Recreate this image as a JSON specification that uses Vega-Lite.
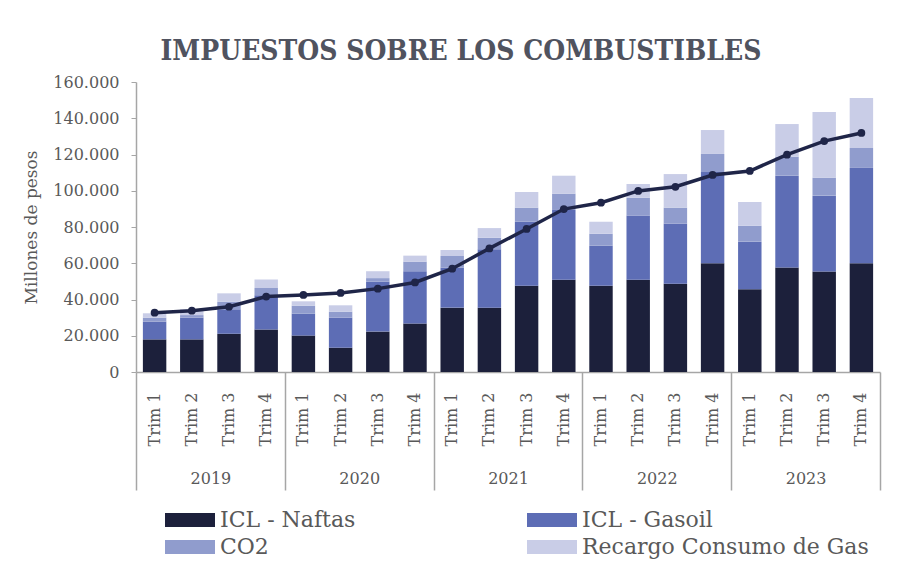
{
  "$schema": "https://vega.github.io/schema/vega-lite/v6.json",
  "width": 744,
  "height": 290,
  "autosize": {"type": "none"},
  "padding": {"left": 136, "top": 82, "right": 21, "bottom": 197},
  "background": "white",
  "title": {
    "text": "IMPUESTOS SOBRE LOS COMBUSTIBLES",
    "font": "DejaVu Serif Condensed, DejaVu Serif",
    "fontWeight": "bold",
    "fontSize": 28,
    "color": "#50535f",
    "anchor": "middle",
    "frame": "group",
    "baseline": "alphabetic",
    "offset": 22,
    "dx": -47,
    "dy": 36
  },
  "config": {
    "font": "DejaVu Serif",
    "locale": {"number": {"decimal": ",", "thousands": ".", "grouping": [3], "currency": ["$", ""]}},
    "view": {"stroke": null},
    "axis": {"labelFont": "DejaVu Serif", "titleFont": "DejaVu Serif", "labelColor": "#595959", "titleColor": "#595959", "domainColor": "#a6a6a6", "tickColor": "#a6a6a6"},
    "axisY": {"labelOverlap": false, "grid": false, "domainWidth": 1.5, "tickSize": 5, "labelFontSize": 16, "labelPadding": 12, "titleFontSize": 17, "titleFontWeight": "normal", "titlePadding": 12}
  },
  "datasets": {
    "barras": [
      {"periodo": "2019-T1", "serie": "ICL - Naftas", "orden": 1, "valor": 18000},
      {"periodo": "2019-T1", "serie": "ICL - Gasoil", "orden": 2, "valor": 9800},
      {"periodo": "2019-T1", "serie": "CO2", "orden": 3, "valor": 2200},
      {"periodo": "2019-T1", "serie": "Recargo Consumo de Gas", "orden": 4, "valor": 2400},
      {"periodo": "2019-T2", "serie": "ICL - Naftas", "orden": 1, "valor": 18000},
      {"periodo": "2019-T2", "serie": "ICL - Gasoil", "orden": 2, "valor": 12000},
      {"periodo": "2019-T2", "serie": "CO2", "orden": 3, "valor": 1400},
      {"periodo": "2019-T2", "serie": "Recargo Consumo de Gas", "orden": 4, "valor": 3200},
      {"periodo": "2019-T3", "serie": "ICL - Naftas", "orden": 1, "valor": 21100},
      {"periodo": "2019-T3", "serie": "ICL - Gasoil", "orden": 2, "valor": 13500},
      {"periodo": "2019-T3", "serie": "CO2", "orden": 3, "valor": 4200},
      {"periodo": "2019-T3", "serie": "Recargo Consumo de Gas", "orden": 4, "valor": 4600},
      {"periodo": "2019-T4", "serie": "ICL - Naftas", "orden": 1, "valor": 23400},
      {"periodo": "2019-T4", "serie": "ICL - Gasoil", "orden": 2, "valor": 18900},
      {"periodo": "2019-T4", "serie": "CO2", "orden": 3, "valor": 4000},
      {"periodo": "2019-T4", "serie": "Recargo Consumo de Gas", "orden": 4, "valor": 4800},
      {"periodo": "2020-T1", "serie": "ICL - Naftas", "orden": 1, "valor": 20100},
      {"periodo": "2020-T1", "serie": "ICL - Gasoil", "orden": 2, "valor": 12100},
      {"periodo": "2020-T1", "serie": "CO2", "orden": 3, "valor": 4400},
      {"periodo": "2020-T1", "serie": "Recargo Consumo de Gas", "orden": 4, "valor": 2400},
      {"periodo": "2020-T2", "serie": "ICL - Naftas", "orden": 1, "valor": 13400},
      {"periodo": "2020-T2", "serie": "ICL - Gasoil", "orden": 2, "valor": 16600},
      {"periodo": "2020-T2", "serie": "CO2", "orden": 3, "valor": 3300},
      {"periodo": "2020-T2", "serie": "Recargo Consumo de Gas", "orden": 4, "valor": 3500},
      {"periodo": "2020-T3", "serie": "ICL - Naftas", "orden": 1, "valor": 22300},
      {"periodo": "2020-T3", "serie": "ICL - Gasoil", "orden": 2, "valor": 27500},
      {"periodo": "2020-T3", "serie": "CO2", "orden": 3, "valor": 2000},
      {"periodo": "2020-T3", "serie": "Recargo Consumo de Gas", "orden": 4, "valor": 3800},
      {"periodo": "2020-T4", "serie": "ICL - Naftas", "orden": 1, "valor": 26700},
      {"periodo": "2020-T4", "serie": "ICL - Gasoil", "orden": 2, "valor": 28900},
      {"periodo": "2020-T4", "serie": "CO2", "orden": 3, "valor": 5300},
      {"periodo": "2020-T4", "serie": "Recargo Consumo de Gas", "orden": 4, "valor": 3300},
      {"periodo": "2021-T1", "serie": "ICL - Naftas", "orden": 1, "valor": 35500},
      {"periodo": "2021-T1", "serie": "ICL - Gasoil", "orden": 2, "valor": 22100},
      {"periodo": "2021-T1", "serie": "CO2", "orden": 3, "valor": 6400},
      {"periodo": "2021-T1", "serie": "Recargo Consumo de Gas", "orden": 4, "valor": 3300},
      {"periodo": "2021-T2", "serie": "ICL - Naftas", "orden": 1, "valor": 35500},
      {"periodo": "2021-T2", "serie": "ICL - Gasoil", "orden": 2, "valor": 32200},
      {"periodo": "2021-T2", "serie": "CO2", "orden": 3, "valor": 6400},
      {"periodo": "2021-T2", "serie": "Recargo Consumo de Gas", "orden": 4, "valor": 5300},
      {"periodo": "2021-T3", "serie": "ICL - Naftas", "orden": 1, "valor": 47600},
      {"periodo": "2021-T3", "serie": "ICL - Gasoil", "orden": 2, "valor": 35300},
      {"periodo": "2021-T3", "serie": "CO2", "orden": 3, "valor": 7800},
      {"periodo": "2021-T3", "serie": "Recargo Consumo de Gas", "orden": 4, "valor": 8600},
      {"periodo": "2021-T4", "serie": "ICL - Naftas", "orden": 1, "valor": 50900},
      {"periodo": "2021-T4", "serie": "ICL - Gasoil", "orden": 2, "valor": 38500},
      {"periodo": "2021-T4", "serie": "CO2", "orden": 3, "valor": 9000},
      {"periodo": "2021-T4", "serie": "Recargo Consumo de Gas", "orden": 4, "valor": 9900},
      {"periodo": "2022-T1", "serie": "ICL - Naftas", "orden": 1, "valor": 47600},
      {"periodo": "2022-T1", "serie": "ICL - Gasoil", "orden": 2, "valor": 22100},
      {"periodo": "2022-T1", "serie": "CO2", "orden": 3, "valor": 6600},
      {"periodo": "2022-T1", "serie": "Recargo Consumo de Gas", "orden": 4, "valor": 6600},
      {"periodo": "2022-T2", "serie": "ICL - Naftas", "orden": 1, "valor": 50900},
      {"periodo": "2022-T2", "serie": "ICL - Gasoil", "orden": 2, "valor": 35400},
      {"periodo": "2022-T2", "serie": "CO2", "orden": 3, "valor": 9900},
      {"periodo": "2022-T2", "serie": "Recargo Consumo de Gas", "orden": 4, "valor": 7500},
      {"periodo": "2022-T3", "serie": "ICL - Naftas", "orden": 1, "valor": 48700},
      {"periodo": "2022-T3", "serie": "ICL - Gasoil", "orden": 2, "valor": 33300},
      {"periodo": "2022-T3", "serie": "CO2", "orden": 3, "valor": 8700},
      {"periodo": "2022-T3", "serie": "Recargo Consumo de Gas", "orden": 4, "valor": 18500},
      {"periodo": "2022-T4", "serie": "ICL - Naftas", "orden": 1, "valor": 60000},
      {"periodo": "2022-T4", "serie": "ICL - Gasoil", "orden": 2, "valor": 50300},
      {"periodo": "2022-T4", "serie": "CO2", "orden": 3, "valor": 10000},
      {"periodo": "2022-T4", "serie": "Recargo Consumo de Gas", "orden": 4, "valor": 13200},
      {"periodo": "2023-T1", "serie": "ICL - Naftas", "orden": 1, "valor": 45600},
      {"periodo": "2023-T1", "serie": "ICL - Gasoil", "orden": 2, "valor": 26300},
      {"periodo": "2023-T1", "serie": "CO2", "orden": 3, "valor": 8800},
      {"periodo": "2023-T1", "serie": "Recargo Consumo de Gas", "orden": 4, "valor": 13100},
      {"periodo": "2023-T2", "serie": "ICL - Naftas", "orden": 1, "valor": 57600},
      {"periodo": "2023-T2", "serie": "ICL - Gasoil", "orden": 2, "valor": 50700},
      {"periodo": "2023-T2", "serie": "CO2", "orden": 3, "valor": 10500},
      {"periodo": "2023-T2", "serie": "Recargo Consumo de Gas", "orden": 4, "valor": 18000},
      {"periodo": "2023-T3", "serie": "ICL - Naftas", "orden": 1, "valor": 55400},
      {"periodo": "2023-T3", "serie": "ICL - Gasoil", "orden": 2, "valor": 41900},
      {"periodo": "2023-T3", "serie": "CO2", "orden": 3, "valor": 9900},
      {"periodo": "2023-T3", "serie": "Recargo Consumo de Gas", "orden": 4, "valor": 36200},
      {"periodo": "2023-T4", "serie": "ICL - Naftas", "orden": 1, "valor": 60000},
      {"periodo": "2023-T4", "serie": "ICL - Gasoil", "orden": 2, "valor": 52600},
      {"periodo": "2023-T4", "serie": "CO2", "orden": 3, "valor": 11000},
      {"periodo": "2023-T4", "serie": "Recargo Consumo de Gas", "orden": 4, "valor": 27600}
    ],
    "linea": [
      {"periodo": "2019-T1", "total": 32700},
      {"periodo": "2019-T2", "total": 33800},
      {"periodo": "2019-T3", "total": 36000},
      {"periodo": "2019-T4", "total": 41600},
      {"periodo": "2020-T1", "total": 42500},
      {"periodo": "2020-T2", "total": 43600},
      {"periodo": "2020-T3", "total": 46000},
      {"periodo": "2020-T4", "total": 49400},
      {"periodo": "2021-T1", "total": 57000},
      {"periodo": "2021-T2", "total": 68200},
      {"periodo": "2021-T3", "total": 78900},
      {"periodo": "2021-T4", "total": 89900},
      {"periodo": "2022-T1", "total": 93400},
      {"periodo": "2022-T2", "total": 99900},
      {"periodo": "2022-T3", "total": 102200},
      {"periodo": "2022-T4", "total": 108700},
      {"periodo": "2023-T1", "total": 110900},
      {"periodo": "2023-T2", "total": 119900},
      {"periodo": "2023-T3", "total": 127400},
      {"periodo": "2023-T4", "total": 131900}
    ],
    "anios": [
      {"pos": 0}, {"pos": 2}, {"pos": 4}, {"pos": 6}, {"pos": 8}, {"pos": 10},
      {"pos": 12}, {"pos": 14}, {"pos": 16}, {"pos": 18}, {"pos": 20}
    ]
  },
  "layer": [
    {
      "encoding": {
        "x": {
          "field": "periodo",
          "type": "ordinal",
          "scale": {"paddingInner": 0.37, "paddingOuter": 0.185},
          "axis": {
            "orient": "bottom",
            "title": null,
            "ticks": false,
            "domain": true,
            "domainWidth": 1.5,
            "labelAngle": -90,
            "labelFontSize": 16,
            "labelPadding": 20,
            "labelExpr": "'Trim ' + slice(datum.value, 6)"
          }
        }
      },
      "layer": [
        {
          "data": {"name": "barras"},
          "mark": {"type": "bar"},
          "encoding": {
            "y": {
              "field": "valor",
              "type": "quantitative",
              "stack": "zero",
              "scale": {"domain": [0, 160000], "nice": false},
              "axis": {
                "title": "Millones  de pesos",
                "values": [0, 20000, 40000, 60000, 80000, 100000, 120000, 140000, 160000],
                "format": ",.0f",
                "labelOverlap": false
              }
            },
            "color": {
              "field": "serie",
              "type": "nominal",
              "scale": {
                "domain": ["ICL - Naftas", "ICL - Gasoil", "CO2", "Recargo Consumo de Gas"],
                "range": ["#1c203b", "#5d6db5", "#909ccd", "#c9cde7"]
              },
              "legend": {
                "title": null,
                "orient": "none",
                "legendX": 43,
                "legendY": 427,
                "direction": "horizontal",
                "columns": 2,
                "columnPadding": 171,
                "rowPadding": 5,
                "symbolType": "M-5,-1.4H5V1.4H-5Z",
                "symbolSize": 100,
                "symbolStrokeWidth": 0,
                "labelFont": "DejaVu Serif",
                "labelFontSize": 22,
                "labelColor": "#595959",
                "labelOffset": 19,
                "labelLimit": 400
              }
            },
            "order": {"field": "orden", "type": "quantitative"}
          }
        },
        {
          "data": {"name": "linea"},
          "mark": {"type": "line", "color": "#1f2548", "strokeWidth": 3.5},
          "encoding": {
            "y": {
              "field": "total",
              "type": "quantitative",
              "axis": {
                "title": "Millones  de pesos",
                "values": [0, 20000, 40000, 60000, 80000, 100000, 120000, 140000, 160000],
                "format": ",.0f",
                "labelOverlap": false
              }
            }
          }
        },
        {
          "data": {"name": "linea"},
          "mark": {"type": "point", "filled": true, "opacity": 1, "color": "#1f2548", "size": 60},
          "encoding": {
            "y": {
              "field": "total",
              "type": "quantitative",
              "axis": {
                "title": "Millones  de pesos",
                "values": [0, 20000, 40000, 60000, 80000, 100000, 120000, 140000, 160000],
                "format": ",.0f",
                "labelOverlap": false
              }
            }
          }
        }
      ]
    },
    {
      "data": {"name": "anios"},
      "mark": {"type": "point", "opacity": 0},
      "encoding": {
        "x": {
          "field": "pos",
          "type": "quantitative",
          "scale": {"domain": [0, 20], "nice": false, "zero": false},
          "axis": {
            "orient": "bottom",
            "title": null,
            "domain": false,
            "grid": false,
            "values": [0, 2, 4, 6, 8, 10, 12, 14, 16, 18, 20],
            "ticks": true,
            "tickSize": 118,
            "tickWidth": 1.5,
            "tickOpacity": {"condition": {"test": "datum.value % 4 != 0", "value": 0}, "value": 1},
            "labelFontSize": 16,
            "labelPadding": -20,
            "labelAngle": 0,
            "labelOverlap": false,
            "labelExpr": "datum.value == 2 ? '2019' : datum.value == 6 ? '2020' : datum.value == 10 ? '2021' : datum.value == 14 ? '2022' : datum.value == 18 ? '2023' : ''"
          }
        }
      }
    }
  ],
  "resolve": {"scale": {"x": "independent"}, "axis": {"x": "independent"}}
}
